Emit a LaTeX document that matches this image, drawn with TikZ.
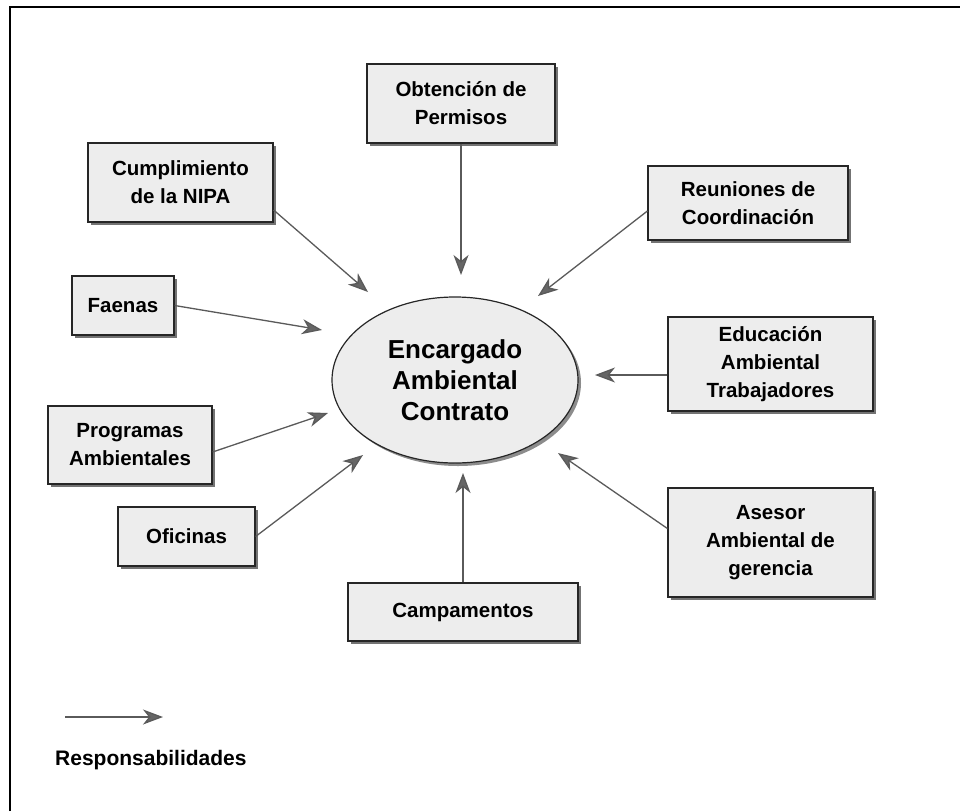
\documentclass[tikz,border=0pt]{standalone}
\usepackage{fontspec}
\setmainfont{Liberation Sans}
\usetikzlibrary{shapes.geometric,shadows,arrows.meta,calc}
\definecolor{boxfill}{HTML}{EDEDED}
\definecolor{linegray}{HTML}{5A5A5A}
\tikzset{
  role/.style={draw=black!85, line width=1.2pt, fill=boxfill, align=center,
    font=\fontsize{20.5}{28}\selectfont\bfseries,
    drop shadow={shadow xshift=3pt, shadow yshift=-3pt, fill=black!55, opacity=1}},
  hub/.style={ellipse, draw=black!85, line width=1.2pt, fill=boxfill, align=center,
    minimum width=246pt, minimum height=166pt, inner sep=0pt,
    font=\fontsize{26}{31}\selectfont\bfseries,
    drop shadow={shadow xshift=3pt, shadow yshift=-3pt, fill=black!45, opacity=1}},
  duty/.style={draw=linegray, line width=1.3pt,
    -{Stealth[length=20pt, width=15pt, inset=6pt, fill=black!60]}},
}
\begin{document}
\begin{tikzpicture}[x=1pt, y=-1pt]
  \useasboundingbox (0,0) rectangle (960,811);
  % outer frame (left and top edges)
  \draw[line width=2.6pt] (10,811) -- (10,7) -- (960,7);

  % central node
  \node[hub] (ell) at (455,380) {Encargado\\Ambiental\\Contrato};

  % surrounding responsibilities
  \node[role, minimum width=188pt, minimum height=79pt] (obt) at (461,103.5) {Obtención de\\Permisos};
  \node[role, minimum width=185pt, minimum height=79pt] (cum) at (180.5,182.5) {Cumplimiento\\de la NIPA};
  \node[role, minimum width=200pt, minimum height=74pt] (reu) at (748,203) {Reuniones de\\Coordinación};
  \node[role, minimum width=102pt, minimum height=59pt] (fae) at (123,305.5) {Faenas};
  \node[role, minimum width=205pt, minimum height=94pt] (edu) at (770.5,364) {Educación\\Ambiental\\Trabajadores};
  \node[role, minimum width=164pt, minimum height=78pt] (pro) at (130,445) {Programas\\Ambientales};
  \node[role, minimum width=205pt, minimum height=109pt] (ase) at (770.5,542.5) {Asesor\\Ambiental de\\gerencia};
  \node[role, minimum width=137pt, minimum height=59pt] (ofi) at (186.5,536.5) {Oficinas};
  \node[role, minimum width=230pt, minimum height=58pt] (cam) at (463,612) {Campamentos};

  % arrow tips, stopping short of the ellipse
  \coordinate (tobt) at (461,275);
  \coordinate (tcum) at (368,292);
  \coordinate (treu) at (538,296);
  \coordinate (tfae) at (322,330);
  \coordinate (tedu) at (595,375);
  \coordinate (tpro) at (328,413);
  \coordinate (tofi) at (363,455);
  \coordinate (tcam) at (463,473);
  \coordinate (tase) at (558,453);

  \draw[duty] (obt.south) -- (tobt);
  \draw[duty] ($(cum.east)+(0,27.5)$) -- (tcum);
  \draw[duty] ($(reu.west)+(0,8)$) -- (treu);
  \draw[duty] (fae.east) -- (tfae);
  \draw[duty] ($(edu.west)+(0,11)$) -- (tedu);
  \draw[duty] ($(pro.east)+(0,7)$) -- (tpro);
  \draw[duty] (ofi.east) -- (tofi);
  \draw[duty] (cam.north) -- (tcam);
  \draw[duty] ($(ase.west)+(0,-14)$) -- (tase);

  % legend
  \coordinate (lega) at (65,717);
  \coordinate (legb) at (163,717);
  \draw[duty] (lega) -- (legb);
  \node[anchor=west, inner sep=0pt, font=\fontsize{21}{25}\selectfont\bfseries] (legt) at (55,760) {Responsabilidades};
\end{tikzpicture}
\end{document}
